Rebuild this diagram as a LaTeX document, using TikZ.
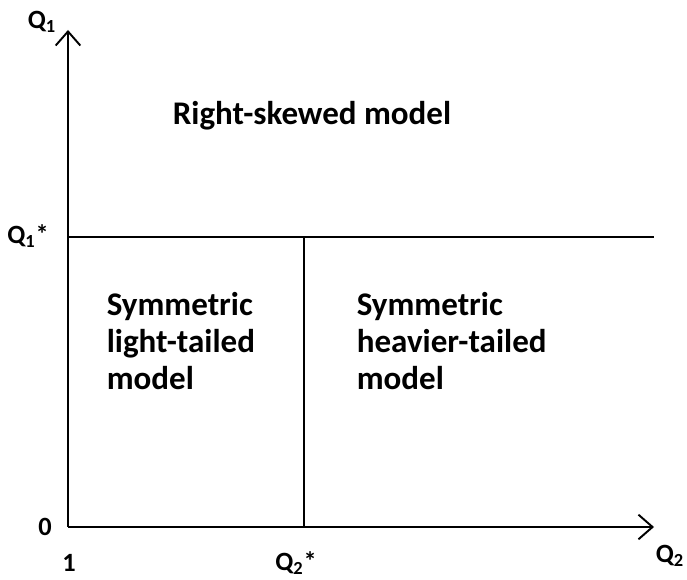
\documentclass[tikz,border=0pt]{standalone}
\usepackage{fontspec}
\setmainfont{Carlito}
\usepackage{tikz}
\usetikzlibrary{arrows.meta, positioning}

\begin{document}
\begin{tikzpicture}[x=0.02cm, y=-0.02cm, line width=1.1pt, font=\bfseries]
    \useasboundingbox (0,0) rectangle (687,580);
    % Axes
    \coordinate (origin) at (68,527);
    \coordinate (ytop) at (68,30);
    \coordinate (xend) at (654,527);
    \coordinate (qone) at (68,237);
    \coordinate (qoneend) at (654,237);
    \coordinate (qtwo) at (304,527);
    \coordinate (qtwotop) at (304,237);

    \draw[-{Straight Barb[length=8pt, width=14pt]}] (origin) -- (ytop);
    \draw[-{Straight Barb[length=8pt, width=14pt]}] (origin) -- (xend);
    \draw (qone) -- (qoneend);
    \draw (qtwo) -- (qtwotop);

    % Axis labels
    \node[font=\bfseries\fontsize{15}{17}\selectfont] (qonelabel) at (42,22) {Q\textsubscript{1}};
    \node[font=\bfseries\fontsize{15}{17}\selectfont] (qonestar) at (28,236) {Q\textsubscript{1}*};
    \node[font=\bfseries\fontsize{15}{17}\selectfont] (zero) at (45,527) {0};
    \node[font=\bfseries\fontsize{15}{17}\selectfont] (one) at (69,563) {1};
    \node[font=\bfseries\fontsize{15}{17}\selectfont] (qtwostar) at (296,563) {Q\textsubscript{2}*};
    \node[font=\bfseries\fontsize{15}{17}\selectfont] (qtwolabel) at (670,556) {Q\textsubscript{2}};

    % Regions
    \node[font=\bfseries\fontsize{18.8}{21}\selectfont] (skewed) at (312,116) {Right-skewed model};
    \node[font=\bfseries\fontsize{18.8}{21}\selectfont, align=left, anchor=north west] (light) at (100,286) {Symmetric\\light-tailed\\model};
    \node[font=\bfseries\fontsize{18.8}{21}\selectfont, align=left, anchor=north west] (heavy) at (350,286) {Symmetric\\heavier-tailed\\model};
\end{tikzpicture}
\end{document}
